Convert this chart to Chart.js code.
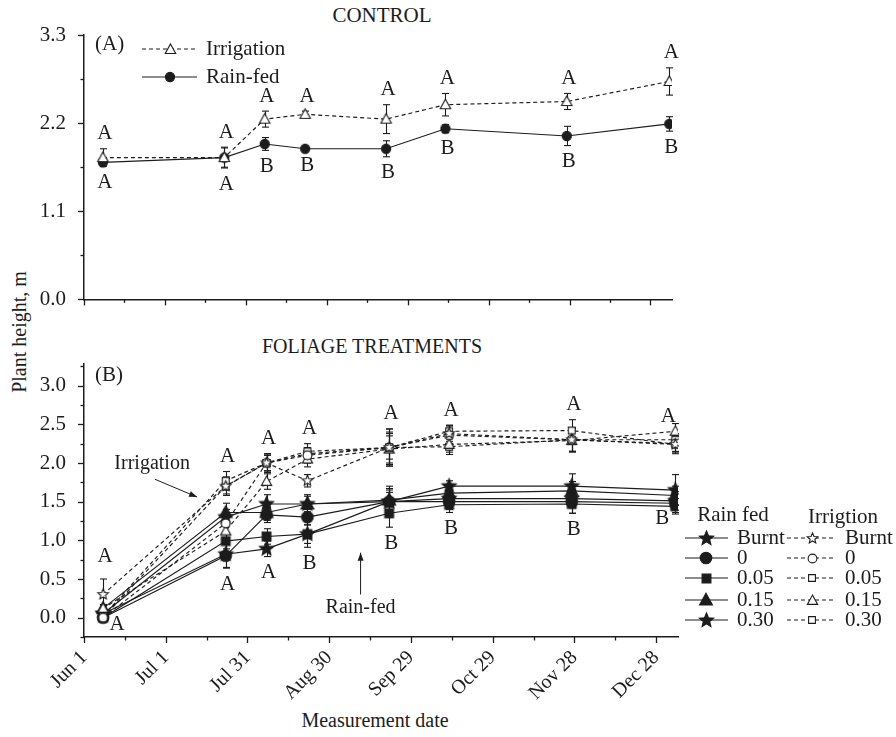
<!DOCTYPE html>
<html><head><meta charset="utf-8">
<script src="https://cdn.jsdelivr.net/npm/chart.js@4.4.1/dist/chart.umd.min.js"></script>
<style>
html,body{margin:0;padding:0;background:#fff;}
#wrap{position:relative;width:896px;height:737px;overflow:hidden;font-family:"Liberation Serif","Times New Roman",serif;color:#1c1c1c;}
.t{position:absolute;white-space:nowrap;font-size:20px;line-height:1;}
.box{position:absolute;left:0;width:896px;}
</style></head><body>
<div id="wrap">
 <div class="t" style="left:382px;top:15px;transform:translate(-50%,-50%);font-size:21px">CONTROL</div>
 <div class="t" style="left:372px;top:346px;transform:translate(-50%,-50%)">FOLIAGE TREATMENTS</div>
 <div class="t" style="left:375px;top:720px;transform:translate(-50%,-50%)">Measurement date</div>
 <div class="t" style="left:19px;top:332px;transform:translate(-50%,-50%) rotate(-90deg)">Plant height, m</div>
 <div class="box" style="top:0;height:330px"><canvas id="cA"></canvas></div>
 <div class="box" style="top:330px;height:407px"><canvas id="cB"></canvas></div>
</div>
<script>
// ---------------- DATA ----------------
const measureDays = [7, 52, 67, 82, 112, 134, 179, 217];       // days after Jun 1
const xMajorTickDays = [0, 30, 60, 90, 120, 150, 180, 210];
const xTickLabels = ['Jun 1','Jul 1','Jul 31','Aug 30','Sep 29','Oct 29','Nov 28','Dec 28'];
const xMinorTickDays = [15, 45, 75, 105, 135, 165, 195];

// Panel A (control)
const yTicksA = [0, 1.1, 2.2, 3.3];
const yMinorA = [0.55, 1.65, 2.75];
const ctrlIrrigation    = [1.77, 1.77, 2.25, 2.31, 2.25, 2.43, 2.47, 2.72];
const ctrlIrrigationErr = [0.11, 0.12, 0.10, 0.04, 0.18, 0.14, 0.10, 0.17];
const ctrlRainfed       = [1.71, 1.77, 1.94, 1.88, 1.88, 2.13, 2.04, 2.19];
const ctrlRainfedErr    = [0.05, 0.13, 0.08, 0.01, 0.10, 0.05, 0.12, 0.09];
const ctrlIrrLetters  = ['A','A','A','A','A','A','A','A'];
const ctrlRainLetters = ['A','A','B','B','B','B','B','B'];

// Panel B (foliage treatments)
const yTicksB = [0, 0.5, 1.0, 1.5, 2.0, 2.5, 3.0];
const yMinorB = [-0.25, 0.25, 0.75, 1.25, 1.75, 2.25, 2.75, 3.25];
const treatmentNames = ['Burnt', '0', '0.05', '0.15', '0.30'];
const rfBurnt = [0.05, 0.82, 0.89, 1.08, 1.50, 1.54, 1.54, 1.51];
const rf0     = [0.00, 0.80, 1.33, 1.30, 1.50, 1.50, 1.50, 1.48];
const rf005   = [0.00, 0.99, 1.05, 1.08, 1.35, 1.46, 1.47, 1.44];
const rf015   = [0.12, 1.36, 1.36, 1.47, 1.52, 1.61, 1.64, 1.58];
const rf030   = [0.05, 1.30, 1.47, 1.47, 1.50, 1.70, 1.70, 1.65];
const rfBurntErr = [0.03, 0.18, 0.10, 0.17, 0.15, 0.10, 0.12, 0.12];
const rf0Err     = [0.03, 0.15, 0.10, 0.10, 0.12, 0.10, 0.15, 0.12];
const rf005Err   = [0.03, 0.10, 0.10, 0.12, 0.18, 0.10, 0.12, 0.10];
const rf015Err   = [0.04, 0.12, 0.10, 0.10, 0.15, 0.08, 0.12, 0.12];
const rf030Err   = [0.03, 0.10, 0.12, 0.12, 0.20, 0.07, 0.16, 0.20];
const irBurnt = [0.30, 1.70, 2.00, 1.77, 2.20, 2.38, 2.30, 2.24];
const ir0     = [0.00, 1.22, 2.00, 2.10, 2.20, 2.36, 2.30, 2.25];
const ir005   = [0.02, 1.77, 2.00, 2.15, 2.20, 2.41, 2.42, 2.24];
const ir015   = [0.12, 1.12, 1.76, 2.05, 2.18, 2.24, 2.29, 2.41];
const ir030   = [0.00, 1.70, 2.00, 2.12, 2.20, 2.21, 2.30, 2.30];
const irBurntErr = [0.20, 0.12, 0.10, 0.08, 0.24, 0.10, 0.15, 0.10];
const ir0Err     = [0.03, 0.12, 0.12, 0.10, 0.20, 0.12, 0.15, 0.10];
const ir005Err   = [0.03, 0.12, 0.12, 0.10, 0.24, 0.08, 0.14, 0.12];
const ir015Err   = [0.05, 0.12, 0.10, 0.10, 0.20, 0.10, 0.15, 0.10];
const ir030Err   = [0.03, 0.10, 0.10, 0.08, 0.15, 0.10, 0.15, 0.08];
const treatIrrLetters  = ['A','A','A','A','A','A','A','A'];
const treatRainLetters = ['A','A','A','B','B','B','B','B'];

// ---------------- STYLE / HELPERS ----------------
const INK = '#1c1c1c';
const FONT = '"Liberation Serif", "Times New Roman", serif';
const X_MAX = 218;

function makeMarker(shape, filled, r) {
  const pad = 2, s = Math.ceil(2 * r + 2 * pad);
  const c = document.createElement('canvas'); c.width = s; c.height = s;
  const g = c.getContext('2d'); const cx = s / 2, cy = s / 2;
  g.beginPath();
  if (shape === 'circle') g.arc(cx, cy, r, 0, Math.PI * 2);
  else if (shape === 'square') g.rect(cx - r * 0.85, cy - r * 0.85, r * 1.7, r * 1.7);
  else if (shape === 'triangle') { g.moveTo(cx, cy - r); g.lineTo(cx + r * 0.95, cy + r * 0.72); g.lineTo(cx - r * 0.95, cy + r * 0.72); g.closePath(); }
  else if (shape === 'star') {
    for (let i = 0; i < 10; i++) {
      const a = -Math.PI / 2 + i * Math.PI / 5, rr = (i % 2) ? r * 0.45 : r;
      const x = cx + rr * Math.cos(a), y = cy + rr * Math.sin(a);
      if (i) g.lineTo(x, y); else g.moveTo(x, y);
    }
    g.closePath();
  }
  g.fillStyle = filled ? INK : '#fff'; g.fill();
  g.lineWidth = 1.1; g.strokeStyle = INK; g.stroke();
  return c;
}
const pts = vals => vals.map((v, i) => ({ x: measureDays[i], y: v }));

function series(label, vals, errs, marker, dashed) {
  return { label, data: pts(vals), errors: errs, marker,
    pointStyle: marker, pointRadius: 5, borderColor: INK, backgroundColor: INK,
    borderWidth: 1.15, borderDash: dashed ? [4, 3] : [], tension: 0, fill: false };
}

function seg(ctx, x1, y1, x2, y2) { ctx.beginPath(); ctx.moveTo(x1, y1); ctx.lineTo(x2, y2); ctx.stroke(); }

const tickPlugin = {
  id: 'axisTicks',
  afterDraw(chart, args, o) {
    const { ctx, scales: { x, y }, chartArea: a } = chart;
    ctx.save(); ctx.strokeStyle = INK; ctx.lineWidth = 1.3; ctx.setLineDash([]);
    o.xMajor.forEach(v => { const p = Math.round(x.getPixelForValue(v)) + 0.5; seg(ctx, p, a.bottom, p, a.bottom + 6); });
    o.xMinor.forEach(v => { const p = Math.round(x.getPixelForValue(v)) + 0.5; seg(ctx, p, a.bottom, p, a.bottom + 3.5); });
    o.yMajor.forEach(v => { const p = Math.round(y.getPixelForValue(v)) + 0.5; seg(ctx, a.left - 6, p, a.left, p); });
    o.yMinor.forEach(v => { if (v < y.min || v > y.max) return; const p = Math.round(y.getPixelForValue(v)) + 0.5; seg(ctx, a.left - 3.5, p, a.left, p); });
    ctx.restore();
  }
};

const errorBarPlugin = {
  id: 'errorBars',
  beforeDatasetsDraw(chart, args, o) {
    const { ctx, scales: { x, y } } = chart;
    ctx.save(); ctx.strokeStyle = INK; ctx.lineWidth = 1.1; ctx.setLineDash([]);
    chart.data.datasets.forEach(ds => {
      ds.data.forEach((p, i) => {
        const e = ds.errors[i]; if (!e) return;
        const px = Math.round(x.getPixelForValue(p.x)) + 0.5;
        const y1 = y.getPixelForValue(p.y + e), y2 = y.getPixelForValue(p.y - e);
        seg(ctx, px, y1, px, y2);
        seg(ctx, px - o.cap, y1, px + o.cap, y1);
        seg(ctx, px - o.cap, y2, px + o.cap, y2);
      });
    });
    ctx.restore();
  }
};

// letters: above group (irrigation) and below group (rain-fed)
const letterPlugin = {
  id: 'letters',
  afterDatasetsDraw(chart, args, o) {
    const { ctx, scales: { x, y } } = chart;
    const ds = chart.data.datasets;
    ctx.save(); ctx.fillStyle = INK; ctx.font = '21px ' + FONT;
    ctx.textAlign = 'center'; ctx.textBaseline = 'middle';
    measureDays.forEach((d, i) => {
      const px = x.getPixelForValue(d);
      let top = -Infinity, bot = Infinity;
      o.upper.forEach(k => { top = Math.max(top, ds[k].data[i].y + ds[k].errors[i]); });
      o.lower.forEach(k => { bot = Math.min(bot, ds[k].data[i].y - ds[k].errors[i]); });
      const u = (o.upperShift && o.upperShift[i]) || [0, 0];
      const l = (o.lowerShift && o.lowerShift[i]) || [0, 0];
      ctx.fillText(o.upperLetters[i], px + 2 + u[0], y.getPixelForValue(top) - 15 + u[1]);
      ctx.fillText(o.lowerLetters[i], px + 2 + l[0], y.getPixelForValue(bot) + 16 + l[1]);
    });
    ctx.restore();
  }
};

function legendRow(ctx, x1, x2, xm, yy, dashed, marker, label, tx) {
  ctx.save(); ctx.strokeStyle = INK; ctx.lineWidth = 1.1;
  ctx.setLineDash(dashed ? [4, 3] : []);
  seg(ctx, x1, yy, x2, yy);
  ctx.restore();
  ctx.drawImage(marker, Math.round(xm - marker.width / 2), Math.round(yy - marker.height / 2));
  ctx.fillText(label, tx, yy);
}

function axisOpts(cfg) {
  return {
    x: {
      type: 'linear', min: 0, max: X_MAX,
      grid: { display: false, drawTicks: false },
      border: { display: true, color: INK, width: 1.5 },
      afterBuildTicks: s => { s.ticks = xMajorTickDays.map(v => ({ value: v })); },
      ticks: { display: cfg.xLabels, autoSkip: false, minRotation: 45, maxRotation: 45, padding: 9,
        color: INK, font: { family: FONT, size: 20 },
        callback: v => xTickLabels[xMajorTickDays.indexOf(v)] ?? '' },
      afterFit: s => { s.height = cfg.xHeight; }
    },
    y: {
      type: 'linear', min: cfg.yMin, max: cfg.yMax,
      grid: { display: false, drawTicks: false },
      border: { display: true, color: INK, width: 1.5 },
      afterBuildTicks: s => { s.ticks = cfg.yTicks.map(v => ({ value: v })); },
      ticks: { autoSkip: false, padding: 18, color: INK, font: { family: FONT, size: 21 },
        callback: v => Number(v).toFixed(1) },
      afterFit: s => { s.width = 84; }
    }
  };
}

// ---------------- PANEL A ----------------
const mA_tri = makeMarker('triangle', false, 5.5);
const mA_cir = makeMarker('circle', true, 4.6);

new Chart(document.getElementById('cA'), {
  type: 'line',
  data: { datasets: [
    series('Irrigation', ctrlIrrigation, ctrlIrrigationErr, mA_tri, true),
    series('Rain-fed', ctrlRainfed, ctrlRainfedErr, mA_cir, false)
  ]},
  options: {
    responsive: true, maintainAspectRatio: false, animation: false,
    layout: { padding: { left: 0, top: 35, right: 224, bottom: 0 } },
    plugins: {
      legend: { display: false }, tooltip: { enabled: false },
      axisTicks: { xMajor: xMajorTickDays, xMinor: xMinorTickDays, yMajor: yTicksA, yMinor: yMinorA },
      errorBars: { cap: 3.5 },
      letters: { upper: [0], lower: [1], upperLetters: ctrlIrrLetters, lowerLetters: ctrlRainLetters }
    },
    scales: axisOpts({ xLabels: false, xHeight: 18, yMin: 0, yMax: 3.3, yTicks: yTicksA })
  },
  plugins: [tickPlugin, errorBarPlugin, letterPlugin, {
    id: 'legendA',
    afterDraw(chart) {
      const ctx = chart.ctx;
      ctx.save(); ctx.fillStyle = INK; ctx.font = '21px ' + FONT; ctx.textBaseline = 'middle'; ctx.textAlign = 'left';
      ctx.fillText('(A)', 95, 44);
      const ds = chart.data.datasets;
      legendRow(ctx, 142, 197, 170, 49, true, mA_tri, ds[0].label, 206);
      legendRow(ctx, 142, 197, 170, 77, false, mA_cir, ds[1].label, 206);
      ctx.restore();
    }
  }]
});

// ---------------- PANEL B ----------------
const mRF = [makeMarker('star', true, 7.5), makeMarker('circle', true, 5.8), makeMarker('square', true, 5.2),
             makeMarker('triangle', true, 6.8), makeMarker('star', true, 7.5)];
const mIR = [makeMarker('star', false, 5.5), makeMarker('circle', false, 4.4), makeMarker('square', false, 4),
             makeMarker('triangle', false, 5.4), makeMarker('square', false, 4)];
const rfVals = [rfBurnt, rf0, rf005, rf015, rf030];
const rfErrs = [rfBurntErr, rf0Err, rf005Err, rf015Err, rf030Err];
const irVals = [irBurnt, ir0, ir005, ir015, ir030];
const irErrs = [irBurntErr, ir0Err, ir005Err, ir015Err, ir030Err];

const dsB = [];
irVals.forEach((v, k) => dsB.push(series('Irrigation ' + treatmentNames[k], v, irErrs[k], mIR[k], true)));
rfVals.forEach((v, k) => dsB.push(series('Rain fed ' + treatmentNames[k], v, rfErrs[k], mRF[k], false)));

new Chart(document.getElementById('cB'), {
  type: 'line',
  data: { datasets: dsB },
  options: {
    responsive: true, maintainAspectRatio: false, animation: false,
    layout: { padding: { left: 0, top: 34, right: 218, bottom: 0 } },
    plugins: {
      legend: { display: false }, tooltip: { enabled: false },
      axisTicks: { xMajor: xMajorTickDays, xMinor: xMinorTickDays, yMajor: yTicksB, yMinor: yMinorB },
      errorBars: { cap: 3.5 },
      letters: { upper: [0, 1, 2, 3, 4], lower: [5, 6, 7, 8, 9],
        upperLetters: treatIrrLetters, lowerLetters: treatRainLetters,
        upperShift: { 0: [0, -8], 7: [-9, 8] },
        lowerShift: { 0: [12, -12], 7: [-15, -12] } }
    },
    scales: axisOpts({ xLabels: true, xHeight: 100, yMin: -0.25, yMax: 3.28, yTicks: yTicksB })
  },
  plugins: [tickPlugin, errorBarPlugin, letterPlugin, {
    id: 'legendB',
    afterDraw(chart) {
      const { ctx, scales: { x, y } } = chart;
      ctx.save(); ctx.fillStyle = INK; ctx.font = '21px ' + FONT; ctx.textBaseline = 'middle';
      ctx.textAlign = 'left';
      ctx.fillText('(B)', 95, 45);
      ctx.font = '20px ' + FONT;
      // annotations with arrows
      const arrow = (d1, v1, d2, v2) => {
        const x1 = x.getPixelForValue(d1), y1 = y.getPixelForValue(v1);
        const x2 = x.getPixelForValue(d2), y2 = y.getPixelForValue(v2);
        ctx.save(); ctx.strokeStyle = INK; ctx.lineWidth = 1; seg(ctx, x1, y1, x2, y2);
        const a = Math.atan2(y2 - y1, x2 - x1), L = 8, W = 3;
        ctx.beginPath(); ctx.moveTo(x2, y2);
        ctx.lineTo(x2 - L * Math.cos(a) + W * Math.sin(a), y2 - L * Math.sin(a) - W * Math.cos(a));
        ctx.lineTo(x2 - L * Math.cos(a) - W * Math.sin(a), y2 - L * Math.sin(a) + W * Math.cos(a));
        ctx.closePath(); ctx.fill(); ctx.restore();
      };
      ctx.textAlign = 'center';
      ctx.fillText('Irrigation', x.getPixelForValue(25), y.getPixelForValue(1.99));
      arrow(26, 1.79, 41.5, 1.56);
      ctx.fillText('Rain-fed', x.getPixelForValue(101.5), y.getPixelForValue(0.13));
      arrow(101.5, 0.30, 101.5, 0.84);
      // legend
      ctx.font = '21px ' + FONT;
      ctx.fillText('Rain fed', 733, 185);
      ctx.fillText('Irrigtion', 843, 187);
      ctx.textAlign = 'left';
      const rows = [208, 228, 248, 270, 290];
      treatmentNames.forEach((n, k) => {
        legendRow(ctx, 685, 728, 706, rows[k], false, mRF[k], n, 737);
        legendRow(ctx, 787, 836, 812, rows[k], true, mIR[k], n, 845);
      });
      ctx.restore();
    }
  }]
});
</script>
</body></html>
